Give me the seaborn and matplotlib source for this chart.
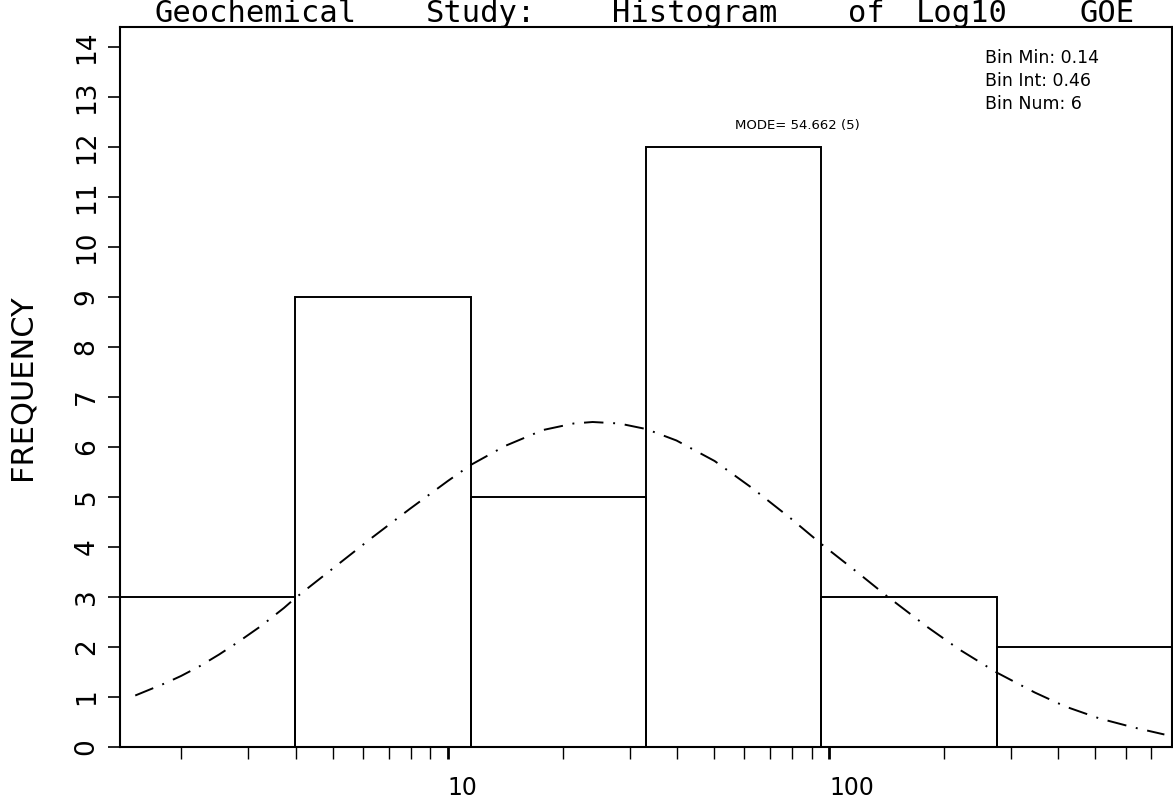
import numpy as np
import pandas as pd
import matplotlib
matplotlib.use("Agg")
import matplotlib.pyplot as plt
from matplotlib.ticker import LogLocator, NullFormatter
import seaborn as sns

# ---- data ----
bin_edges_log10 = [0.14, 0.60, 1.06, 1.52, 1.98, 2.44, 2.90]
bin_counts = [3, 9, 5, 12, 3, 2]

curve_log10 = [0.18, 0.26, 0.30, 0.35, 0.40, 0.45, 0.51, 0.57, 0.60, 0.70,
               0.80, 0.90, 1.00, 1.06, 1.15, 1.25, 1.33, 1.38, 1.45, 1.52,
               1.60, 1.70, 1.80, 1.90, 1.98, 2.08, 2.15, 2.26, 2.34, 2.44,
               2.54, 2.62, 2.71, 2.80, 2.88]
curve_freq = [1.03, 1.28, 1.42, 1.62, 1.85, 2.10, 2.42, 2.78, 2.98, 3.58,
              4.18, 4.76, 5.32, 5.64, 6.02, 6.34, 6.47, 6.50, 6.47, 6.36,
              6.13, 5.72, 5.17, 4.57, 4.06, 3.46, 3.03, 2.39, 1.96, 1.49,
              1.09, 0.81, 0.57, 0.39, 0.25]

x_tick_values = [10, 100]
x_tick_labels = ["10", "100"]
y_tick_values = list(range(0, 15))

title_words = ["Geochemical", "Study:", "Histogram", "of", "Log10", "GOE"]
y_label = "FREQUENCY"
stats_lines = ["Bin Min: 0.14", "Bin Int: 0.46", "Bin Num: 6"]
mode_text = "MODE= 54.662 (5)"

# ---- layout (pixel centres of the spaced-out title words) ----
title_word_px = [256, 481, 695, 866, 962, 1107]

# ---- style ----
sns.set_style("ticks")
plt.rcParams["font.family"] = ["DejaVu Sans"]
for key in ["text.color", "axes.labelcolor", "xtick.color", "ytick.color",
            "axes.edgecolor"]:
    plt.rcParams[key] = "black"

W, H = 1173, 800
fig = plt.figure(figsize=(W / 100, H / 100), dpi=100)
fig.patch.set_facecolor("white")
ax = fig.add_axes([120 / W, 53 / H, 1052 / W, 720 / H])
ax.set_facecolor("white")

edges = np.array(bin_edges_log10)
mids = (edges[:-1] + edges[1:]) / 2
hist_df = pd.DataFrame({"value": 10 ** mids, "count": np.array(bin_counts, dtype=float)})
sns.histplot(data=hist_df, x="value", weights="count", bins=list(bin_edges_log10),
             log_scale=True, fill=False, color="black", linewidth=1.4, ax=ax)

curve_df = pd.DataFrame({"value": 10 ** np.array(curve_log10), "freq": curve_freq})
sns.lineplot(data=curve_df, x="value", y="freq", color="black",
             linewidth=1.4, ax=ax)
ax.lines[-1].set_linestyle((0, (10, 5, 1, 5)))

ax.set_xlim(10 ** bin_edges_log10[0], 10 ** bin_edges_log10[-1])
ax.set_ylim(0, 14.4)

ax.set_xticks(x_tick_values)
ax.set_xticklabels(x_tick_labels)
ax.xaxis.set_minor_locator(LogLocator(base=10, subs=np.arange(2, 10)))
ax.xaxis.set_minor_formatter(NullFormatter())
ax.set_yticks(y_tick_values)
ax.set_yticklabels([str(v) for v in y_tick_values])

ax.tick_params(axis="x", which="both", direction="out", length=8.6, width=1.0,
               labelsize=17, pad=12, color="black", labelcolor="black")
ax.tick_params(axis="x", which="major", width=2.0)
ax.tick_params(axis="y", direction="out", length=8.6, width=1.2,
               labelsize=19, pad=6, labelrotation=90, color="black",
               labelcolor="black")
for lab in ax.get_yticklabels():
    lab.set_va("center")
for lab in ax.get_xticklabels():
    lab.set_ha("left")

ax.set_xlabel("")
ax.set_ylabel(y_label, fontsize=22, color="black")
ax.yaxis.set_label_coords(-(120 - 37) / 1052, 0.5)

for s in ax.spines.values():
    s.set_visible(True)
    s.set_linewidth(1.5)
    s.set_color("black")

for word, px in zip(title_words, title_word_px):
    fig.text(px / W, 1 - 22 / H, word, fontsize=22,
             family="DejaVu Sans Mono", ha="center", va="baseline",
             color="black")
for i, line in enumerate(stats_lines):
    fig.text(985 / W, 1 - (58 + 23 * i) / H, line, fontsize=12.5,
             ha="left", va="center", color="black")
fig.text(735 / W, 1 - 125 / H, mode_text, fontsize=9.5, ha="left",
         va="center", color="black")

fig.savefig("out.png", dpi=100, facecolor="white")
